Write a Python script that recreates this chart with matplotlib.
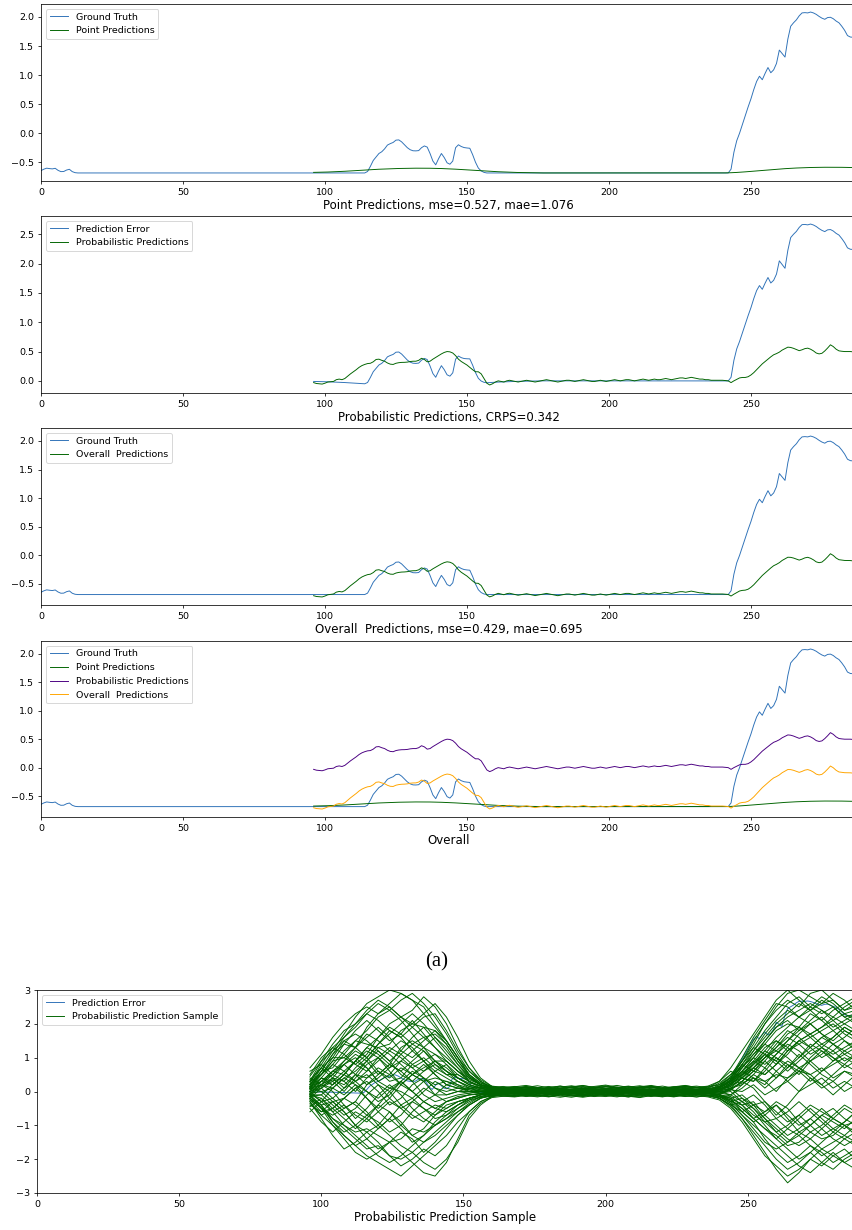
import matplotlib
matplotlib.use("Agg")
import matplotlib.pyplot as plt
import numpy as np

# ---------------- data ----------------
x_full = list(range(0, 288))
x_pred = list(range(96, 288))

ground_truth = (
    [-0.645, -0.62, -0.603, -0.61, -0.615, -0.605, -0.64, -0.662, -0.66, -0.635,
     -0.622, -0.662, -0.68, -0.685]
    + [-0.685] * 101
    + [-0.66, -0.57, -0.47, -0.41, -0.35, -0.32, -0.27, -0.205, -0.18, -0.16,
       -0.12, -0.116, -0.15, -0.2, -0.25, -0.285, -0.303, -0.305, -0.3, -0.25,
       -0.22, -0.24, -0.35, -0.48, -0.545, -0.44, -0.35, -0.42, -0.51, -0.535,
       -0.48, -0.25, -0.2, -0.23, -0.248, -0.255, -0.26, -0.37, -0.5, -0.6,
       -0.65, -0.675, -0.685]
    + [-0.685] * 85
    + [-0.62, -0.33, -0.13, 0.0, 0.15, 0.30, 0.45, 0.59, 0.75, 0.89,
       0.98, 0.92, 1.03, 1.13, 1.04, 1.09, 1.2, 1.43, 1.37, 1.31,
       1.62, 1.84, 1.9, 1.95, 2.02, 2.07, 2.075, 2.07, 2.085, 2.07,
       2.045, 2.01, 1.98, 1.96, 1.99, 1.995, 1.97, 1.93, 1.9, 1.84,
       1.77, 1.68, 1.655, 1.65, 1.64]
)

point_pred = (
    [-0.675, -0.674, -0.673, -0.672, -0.671, -0.669, -0.667, -0.665, -0.663, -0.661,
     -0.659, -0.656, -0.653, -0.65, -0.647, -0.644, -0.641, -0.638, -0.635, -0.632,
     -0.629, -0.626, -0.623, -0.621, -0.619, -0.617, -0.615, -0.613, -0.611, -0.609,
     -0.608, -0.607, -0.606, -0.605, -0.604, -0.604, -0.603, -0.603, -0.603, -0.603,
     -0.604, -0.604, -0.605, -0.606, -0.607, -0.609, -0.611, -0.613, -0.615, -0.617,
     -0.62, -0.623, -0.626, -0.629, -0.632, -0.635, -0.638, -0.641, -0.644, -0.647,
     -0.65, -0.653, -0.656, -0.659, -0.662, -0.664, -0.666, -0.668, -0.67, -0.672,
     -0.674, -0.676, -0.677, -0.678, -0.679, -0.68, -0.681, -0.682, -0.683, -0.684]
    + [-0.685] * 65
    + [-0.684, -0.683, -0.681, -0.679, -0.676, -0.673, -0.67, -0.666, -0.662, -0.658,
       -0.654, -0.65, -0.646, -0.642, -0.638, -0.634, -0.63, -0.626, -0.622, -0.618,
       -0.614, -0.611, -0.608, -0.605, -0.602, -0.6, -0.598, -0.596, -0.594, -0.592,
       -0.591, -0.59, -0.589, -0.588, -0.588, -0.587, -0.587, -0.587, -0.587, -0.587,
       -0.588, -0.588, -0.589, -0.59, -0.591, -0.592, -0.593]
)

prob_pred = [
    -0.03, -0.045, -0.05, -0.055, -0.04, -0.02, -0.015, -0.01, 0.02, 0.03,      # 96-105
    0.02, 0.04, 0.08, 0.12, 0.155, 0.19, 0.23, 0.26, 0.28, 0.295,               # 106-115
    0.3, 0.325, 0.365, 0.37, 0.35, 0.335, 0.305, 0.285, 0.28, 0.3,              # 116-125
    0.31, 0.315, 0.316, 0.32, 0.33, 0.335, 0.335, 0.35, 0.385, 0.365,           # 126-135
    0.325, 0.335, 0.37, 0.40, 0.43, 0.46, 0.485, 0.50, 0.495, 0.475,            # 136-145
    0.43, 0.37, 0.33, 0.30, 0.27, 0.23, 0.19, 0.155, 0.155, 0.12,               # 146-155
    0.04, -0.04, -0.07, -0.05, -0.02, 0.0, -0.01, -0.02, 0.0, 0.01,             # 156-165
    0.0, -0.01, -0.02, -0.01, 0.0, 0.01, 0.0, -0.01, -0.02, -0.01,              # 166-175
    0.0, 0.01, 0.02, 0.01, 0.0, -0.01, -0.02, -0.01, 0.0, 0.01,                 # 176-185
    0.01, 0.0, -0.01, 0.0, 0.01, 0.02, 0.01, 0.0, -0.01, -0.01,                 # 186-195
    0.0, 0.01, 0.0, -0.01, 0.0, 0.01, 0.02, 0.01, 0.0, 0.01,                    # 196-205
    0.02, 0.02, 0.01, 0.0, 0.01, 0.02, 0.03, 0.02, 0.01, 0.02,                  # 206-215
    0.03, 0.02, 0.02, 0.03, 0.04, 0.03, 0.02, 0.03, 0.04, 0.05,                 # 216-225
    0.05, 0.04, 0.05, 0.06, 0.05, 0.04, 0.03, 0.03, 0.02, 0.02,                 # 226-235
    0.01, 0.01, 0.01, 0.01, 0.01, 0.005, 0.0, -0.03, 0.0, 0.025,                # 236-245
    0.05, 0.058, 0.058, 0.07, 0.1, 0.14, 0.19, 0.24, 0.29, 0.33,                # 246-255
    0.37, 0.41, 0.445, 0.465, 0.49, 0.525, 0.55, 0.575, 0.57, 0.555,            # 256-265
    0.535, 0.515, 0.53, 0.55, 0.558, 0.54, 0.512, 0.475, 0.46, 0.47,            # 266-275
    0.51, 0.56, 0.615, 0.585, 0.54, 0.512, 0.505, 0.5, 0.5, 0.5,                # 276-285
    0.495, 0.49,                                                                # 286-287
]

sample_x = [96, 100, 104, 108, 112, 116, 120, 124, 128, 132, 136, 140, 144, 148, 152, 156,
            160, 164, 168, 172, 176, 180, 184, 188, 192, 196, 200, 204, 208, 212, 216, 220,
            224, 228, 232, 236, 240, 244, 248, 252, 256, 260, 264, 268, 272, 276, 280, 284, 288]

sample_paths = [
    [0.1, 0.4, 0.8, 1.2, 1.5, 1.4, 1.3, 1.4, 1.8, 2.0, 1.9, 1.5, 1.1, 0.7, 0.3, 0.15, 0.05, 0.02,
     0.03, -0.02, 0.04, 0.06, 0.01, -0.03, 0.02, 0.05, 0.03, -0.01, 0.04, 0.02, -0.04, 0.01, 0.06, 0.03, 0.00, 0.05,
     0.10, 0.30, 0.70, 1.10, 1.40, 1.80, 2.00, 1.90, 1.70, 1.90, 2.20, 2.00, 1.80],
    [-0.2, -0.5, -0.8, -1.0, -1.2, -1.1, -1.3, -1.5, -1.4, -1.1, -1.2, -1.0, -0.8, -0.6, -0.4, -0.2, -0.1, -0.05,
     -0.04, 0.01, -0.06, -0.02, 0.03, -0.05, -0.01, 0.02, -0.03, -0.07, -0.02, 0.01, -0.04, -0.06, 0.00, -0.03, 0.02, -0.05,
     -0.10, -0.25, -0.50, -0.80, -1.10, -1.30, -1.60, -1.50, -1.20, -1.40, -1.30, -1.00, -1.20],
    [0.0, 0.2, 0.1, 0.4, 0.6, 0.9, 1.3, 1.1, 0.8, 0.5, 0.7, 0.9, 0.6, 0.4, 0.2, 0.1, 0.0, 0.03,
     0.02, 0.05, 0.00, -0.03, 0.04, 0.07, 0.02, -0.02, 0.01, 0.05, 0.03, -0.03, 0.00, 0.04, 0.02, -0.02, 0.03, 0.01,
     0.05, 0.15, 0.40, 0.30, 0.60, 1.00, 0.80, 0.50, 0.90, 1.20, 1.00, 0.70, 0.90],
    [0.2, 0.7, 1.2, 1.7, 2.2, 2.6, 2.8, 3.0, 2.9, 2.7, 2.5, 2.0, 1.5, 1.0, 0.6, 0.3, 0.1, 0.05,
     0.06, 0.02, 0.08, 0.04, 0.01, 0.05, 0.07, 0.03, 0.00, 0.04, 0.06, 0.02, 0.05, 0.08, 0.03, 0.01, 0.04, 0.06,
     0.15, 0.35, 0.60, 0.90, 1.30, 1.50, 1.20, 1.40, 1.60, 1.30, 1.10, 1.30, 1.50],
    [-0.3, -0.7, -1.0, -1.3, -1.6, -1.9, -2.1, -2.3, -2.5, -2.2, -1.9, -1.6, -1.3, -0.9, -0.6, -0.3, -0.15, -0.08,
     -0.05, -0.08, -0.03, -0.06, -0.09, -0.04, -0.02, -0.06, -0.08, -0.03, -0.05, -0.07, -0.02, -0.04, -0.06, -0.09, -0.03, -0.05,
     -0.15, -0.30, -0.40, -0.70, -0.90, -0.80, -1.10, -1.30, -1.00, -0.70, -0.90, -1.10, -0.80],
    [0.1, 0.0, -0.3, -0.2, 0.1, 0.3, 0.0, -0.4, -0.2, 0.2, 0.4, 0.1, -0.1, 0.0, 0.1, 0.0, -0.05, 0.0,
     0.01, -0.03, 0.02, 0.00, -0.04, 0.03, 0.01, -0.02, 0.04, 0.00, -0.03, 0.02, 0.05, -0.01, -0.03, 0.02, 0.00, -0.02,
     -0.20, -0.40, -0.80, -1.30, -1.80, -2.30, -2.70, -2.40, -2.00, -2.20, -1.90, -1.70, -2.00],
    [-0.1, 0.3, 0.6, 0.5, 0.9, 1.2, 1.0, 0.7, 1.1, 1.4, 1.2, 0.8, 0.5, 0.3, 0.1, 0.05, 0.02, -0.02,
     -0.02, 0.03, 0.06, 0.02, -0.01, 0.04, 0.00, 0.03, 0.07, 0.02, -0.02, 0.05, 0.03, 0.00, 0.04, 0.06, 0.01, 0.03,
     0.20, 0.40, 0.90, 1.50, 2.00, 2.50, 2.90, 3.00, 2.80, 2.60, 2.70, 2.40, 2.50],
    [0.0, -0.3, -0.6, -0.4, -0.7, -0.9, -0.6, -0.3, -0.5, -0.8, -0.6, -0.4, -0.5, -0.3, -0.2, -0.1, 0.0, -0.03,
     0.00, -0.05, -0.02, 0.03, 0.00, -0.04, -0.06, -0.01, 0.02, -0.03, 0.00, -0.05, -0.02, 0.02, -0.01, -0.04, -0.02, 0.00,
     -0.05, 0.10, -0.20, -0.40, -0.30, -0.60, -0.90, -0.70, -0.40, -0.60, -0.80, -0.50, -0.70],
    [0.15, 0.5, 0.9, 1.0, 0.8, 1.1, 1.6, 2.0, 2.2, 1.9, 1.6, 1.7, 1.4, 0.9, 0.5, 0.2, 0.08, 0.04,
     0.05, 0.08, 0.03, 0.06, 0.09, 0.04, 0.02, 0.06, 0.03, 0.07, 0.05, 0.01, 0.04, 0.07, 0.05, 0.02, 0.06, 0.04,
     0.12, 0.25, 0.55, 0.80, 1.10, 0.90, 1.30, 1.70, 2.00, 2.20, 1.90, 2.10, 2.30],
    [-0.1, -0.1, 0.2, 0.5, 0.3, 0.0, -0.3, -0.1, 0.3, 0.6, 0.4, 0.2, 0.3, 0.2, 0.0, -0.05, 0.0, 0.02,
     0.03, 0.00, -0.02, 0.04, 0.02, -0.01, 0.03, 0.05, 0.00, -0.03, 0.01, 0.04, 0.02, -0.02, 0.03, 0.00, -0.01, 0.02,
     0.00, 0.20, 0.50, 0.90, 0.70, 0.40, 0.70, 1.10, 0.80, 0.50, 0.30, 0.60, 0.40],
    [0.3, 0.9, 1.4, 1.8, 2.0, 2.3, 2.1, 1.8, 1.6, 1.9, 2.2, 2.3, 1.8, 1.2, 0.7, 0.35, 0.15, 0.06,
     0.04, 0.01, 0.05, 0.02, -0.02, 0.03, 0.06, 0.01, -0.01, 0.04, 0.02, 0.06, 0.03, -0.01, 0.02, 0.05, 0.03, 0.00,
     0.10, 0.05, 0.30, 0.60, 1.00, 1.20, 1.00, 0.70, 0.90, 1.10, 1.40, 1.20, 1.00],
    [-0.2, -0.4, -0.3, -0.6, -1.0, -1.4, -1.7, -1.5, -1.2, -1.4, -1.8, -1.5, -1.1, -0.7, -0.4, -0.2, -0.08, -0.04,
     -0.02, -0.06, -0.03, 0.00, -0.05, -0.08, -0.03, -0.01, -0.04, -0.06, -0.02, -0.05, -0.07, -0.03, -0.01, -0.04, -0.06, -0.03,
     -0.10, -0.20, -0.60, -0.90, -1.40, -1.80, -2.10, -1.90, -1.60, -1.80, -2.10, -1.90, -1.70],
    [0.05, 0.3, 0.5, 0.9, 1.2, 1.0, 0.6, 0.3, 0.4, 0.8, 1.0, 0.7, 0.5, 0.5, 0.3, 0.15, 0.05, 0.0,
     0.02, 0.04, 0.07, 0.03, 0.00, 0.02, -0.02, 0.01, 0.05, 0.03, 0.00, -0.02, 0.01, 0.03, 0.06, 0.02, -0.01, 0.01,
     0.05, 0.25, 0.70, 1.20, 1.70, 2.10, 2.40, 2.20, 2.00, 1.70, 1.50, 1.80, 1.60],
    [-0.05, 0.1, -0.2, -0.5, -0.3, 0.2, 0.5, 0.8, 0.6, 0.3, -0.1, -0.3, -0.2, -0.1, -0.05, 0.0, 0.02, -0.01,
     -0.01, 0.02, -0.03, -0.01, 0.03, 0.00, -0.04, -0.02, 0.01, -0.02, 0.03, 0.00, -0.03, 0.01, -0.02, 0.02, 0.00, -0.03,
     -0.05, 0.05, 0.30, 0.10, -0.30, -0.70, -0.40, 0.00, 0.40, 0.20, -0.10, 0.20, 0.50],
    [0.2, 0.6, 0.7, 1.1, 1.5, 1.8, 2.2, 2.4, 2.1, 1.7, 1.3, 1.1, 0.9, 0.6, 0.4, 0.2, 0.1, 0.03,
     0.03, 0.06, 0.02, 0.05, 0.03, 0.00, 0.04, 0.02, 0.06, 0.04, 0.01, 0.03, 0.06, 0.02, 0.00, 0.03, 0.05, 0.02,
     0.08, 0.20, 0.30, 0.60, 0.50, 0.80, 1.20, 1.50, 1.30, 1.00, 1.20, 1.50, 1.30],
    [-0.15, -0.4, -0.9, -1.2, -1.0, -0.7, -0.9, -1.2, -1.0, -0.6, -0.3, -0.5, -0.6, -0.4, -0.2, -0.1, -0.05, -0.02,
     -0.03, 0.00, -0.04, -0.07, -0.02, 0.01, -0.03, -0.05, -0.02, 0.02, -0.01, -0.04, -0.02, 0.00, -0.05, -0.02, 0.01, -0.02,
     -0.10, -0.15, -0.40, -0.30, -0.70, -1.00, -1.30, -1.10, -0.80, -1.10, -1.40, -1.60, -1.40],
    [0.1, 0.2, 0.6, 0.8, 0.5, 0.2, 0.4, 0.7, 0.9, 1.2, 0.9, 0.6, 0.8, 0.5, 0.3, 0.1, 0.04, 0.01,
     0.01, -0.01, 0.03, 0.05, 0.02, -0.02, 0.00, 0.04, 0.01, -0.01, 0.03, 0.06, 0.02, 0.00, 0.03, 0.01, 0.04, 0.02,
     0.05, 0.20, 0.50, 0.70, 1.00, 1.30, 1.60, 1.40, 1.10, 1.30, 1.60, 1.90, 1.70],
    [0.25, 0.8, 1.3, 1.6, 1.9, 2.3, 2.6, 2.4, 2.7, 2.9, 2.6, 2.2, 1.7, 1.1, 0.6, 0.3, 0.12, 0.05,
     0.07, 0.03, 0.05, 0.08, 0.04, 0.02, 0.06, 0.09, 0.04, 0.01, 0.05, 0.07, 0.03, 0.05, 0.08, 0.04, 0.02, 0.05,
     0.10, 0.30, 0.80, 1.30, 1.80, 2.20, 2.60, 2.80, 2.50, 2.30, 2.50, 2.20, 2.00],
    [-0.25, -0.6, -0.5, -0.2, 0.1, -0.2, -0.6, -0.9, -0.7, -0.3, -0.5, -0.8, -0.7, -0.5, -0.3, -0.15, -0.06, -0.03,
     -0.04, -0.02, 0.01, -0.03, -0.06, -0.02, 0.00, -0.04, -0.07, -0.03, -0.01, -0.04, -0.06, -0.02, 0.00, -0.03, -0.05, -0.01,
     -0.15, -0.35, -0.70, -1.10, -1.50, -1.70, -1.50, -1.20, -1.40, -1.70, -1.50, -1.30, -1.50],
    [0.0, 0.4, 0.3, 0.0, 0.4, 0.8, 1.0, 0.6, 0.2, 0.0, 0.3, 0.6, 0.4, 0.2, 0.1, 0.0, 0.0, -0.02,
     0.00, 0.03, 0.01, -0.02, 0.02, 0.05, 0.01, -0.03, 0.00, 0.03, 0.05, 0.01, -0.02, 0.02, 0.04, 0.00, 0.02, 0.03,
     0.00, 0.10, 0.20, 0.50, 0.90, 0.60, 0.30, 0.60, 1.00, 1.30, 1.00, 0.80, 1.10],
    [0.1, 0.6, 1.1, 1.4, 1.3, 1.6, 1.9, 1.6, 1.2, 1.0, 1.3, 1.6, 1.3, 0.8, 0.4, 0.2, 0.08, 0.03,
     0.02, 0.05, 0.03, 0.00, 0.04, 0.06, 0.03, 0.01, 0.05, 0.02, -0.01, 0.03, 0.05, 0.02, 0.04, 0.07, 0.02, 0.03,
     0.12, 0.30, 0.60, 1.00, 1.50, 1.90, 2.20, 2.40, 2.60, 2.40, 2.10, 2.30, 2.40],
    [-0.1, -0.2, -0.5, -0.8, -1.1, -0.8, -0.4, -0.6, -1.0, -1.3, -1.1, -0.7, -0.4, -0.3, -0.2, -0.1, -0.03, 0.0,
     -0.02, -0.04, 0.00, 0.02, -0.03, -0.05, -0.01, 0.02, -0.02, -0.05, -0.03, 0.00, 0.02, -0.02, -0.04, -0.01, 0.01, -0.03,
     -0.05, 0.00, -0.30, -0.60, -1.00, -1.40, -1.70, -2.00, -1.80, -1.50, -1.20, -1.40, -1.20],
    [0.15, 0.3, 0.6, 0.9, 1.3, 1.7, 1.5, 1.2, 1.5, 1.3, 0.9, 0.5, 0.2, 0.1, 0.0, 0.0, 0.03, 0.04,
     0.05, 0.02, -0.01, 0.03, 0.06, 0.04, 0.00, 0.02, 0.05, 0.07, 0.03, 0.00, 0.02, 0.05, 0.01, -0.02, 0.02, 0.05,
     0.10, 0.35, 0.80, 0.60, 0.90, 1.30, 1.70, 1.90, 1.60, 1.80, 2.00, 1.70, 1.50],
    [-0.05, -0.3, -0.2, 0.1, 0.3, 0.5, 0.2, -0.2, -0.5, -0.3, 0.0, 0.3, 0.1, 0.0, 0.0, 0.02, 0.0, -0.01,
     -0.02, 0.01, 0.03, -0.01, -0.03, 0.02, 0.04, 0.00, -0.02, 0.01, -0.03, -0.01, 0.02, 0.04, 0.00, -0.03, -0.01, 0.01,
     0.00, -0.10, 0.10, 0.40, 0.20, 0.60, 0.90, 0.70, 0.40, 0.10, 0.30, 0.00, 0.20],
    [0.2, 0.5, 1.0, 1.5, 1.7, 1.5, 1.2, 0.9, 1.2, 1.6, 1.9, 1.8, 1.5, 1.0, 0.5, 0.25, 0.1, 0.05,
     0.04, 0.07, 0.02, 0.00, 0.03, 0.05, 0.08, 0.04, 0.02, 0.05, 0.03, 0.06, 0.04, 0.01, 0.03, 0.06, 0.04, 0.02,
     0.15, 0.30, 0.50, 0.80, 1.20, 1.60, 1.90, 2.20, 2.40, 2.70, 2.50, 2.20, 2.30],
    [-0.2, -0.5, -0.7, -0.5, -0.3, -0.6, -1.0, -1.3, -1.6, -1.8, -1.5, -1.2, -0.9, -0.6, -0.35, -0.15, -0.07, -0.03,
     -0.05, -0.02, -0.06, -0.04, -0.01, -0.03, -0.07, -0.04, -0.02, -0.05, -0.08, -0.04, -0.01, -0.03, -0.06, -0.02, -0.04, -0.07,
     -0.10, -0.30, -0.20, -0.50, -0.90, -1.20, -1.00, -0.70, -1.00, -1.30, -1.10, -0.90, -0.60],
    [0.05, 0.2, 0.4, 0.3, 0.7, 1.0, 1.4, 1.7, 2.0, 2.3, 2.0, 1.6, 1.2, 0.8, 0.45, 0.2, 0.06, 0.02,
     0.02, -0.01, 0.02, 0.05, 0.03, 0.01, 0.04, 0.06, 0.02, 0.00, 0.03, 0.05, 0.08, 0.03, 0.01, 0.04, 0.02, 0.00,
     0.05, 0.15, 0.40, 0.80, 1.10, 0.90, 0.60, 0.90, 1.20, 1.40, 1.20, 0.90, 1.10],
    [0.0, 0.1, 0.3, 0.6, 0.9, 0.7, 0.3, 0.1, 0.3, 0.0, -0.3, -0.1, 0.2, 0.3, 0.15, 0.05, 0.0, 0.0,
     0.01, 0.03, 0.00, -0.02, 0.01, 0.04, 0.02, -0.01, -0.03, 0.00, 0.02, 0.04, 0.01, -0.02, 0.00, 0.03, 0.01, -0.01,
     0.05, 0.20, 0.60, 1.00, 1.40, 1.20, 1.50, 1.90, 2.30, 2.10, 1.80, 2.00, 2.20],
    [-0.1, -0.4, -0.8, -1.1, -1.4, -1.7, -1.6, -1.9, -2.0, -1.8, -2.1, -2.3, -2.0, -1.5, -0.8, -0.4, -0.15, -0.05,
     -0.03, -0.06, -0.02, -0.05, -0.08, -0.04, -0.02, -0.05, -0.03, -0.07, -0.04, -0.02, -0.05, -0.08, -0.03, -0.01, -0.04, -0.02,
     -0.05, -0.10, -0.30, -0.50, -0.80, -1.10, -1.40, -1.60, -1.40, -1.10, -0.80, -1.00, -1.30],
    [0.1, 0.3, 0.2, 0.5, 0.9, 1.3, 1.1, 0.8, 0.6, 0.9, 1.2, 0.9, 0.7, 0.4, 0.2, 0.1, 0.05, 0.01,
     0.03, 0.00, 0.04, 0.02, -0.01, 0.02, 0.05, 0.03, 0.00, 0.02, 0.04, 0.01, -0.01, 0.03, 0.05, 0.02, 0.00, 0.04,
     0.05, 0.25, 0.40, 0.30, 0.70, 1.10, 1.40, 1.20, 0.90, 0.60, 0.80, 1.00, 0.80],
    [-0.15, -0.1, -0.4, -0.7, -0.5, -0.1, 0.2, 0.0, -0.4, -0.7, -0.9, -0.6, -0.3, -0.2, -0.1, -0.05, -0.02, -0.02,
     -0.01, -0.04, -0.02, 0.01, -0.02, -0.05, -0.02, 0.01, 0.03, -0.01, -0.04, -0.02, 0.00, -0.03, -0.05, -0.01, 0.02, -0.02,
     -0.10, -0.20, -0.40, -0.80, -0.60, -0.30, -0.50, -0.90, -1.20, -1.00, -0.70, -0.40, -0.60],
    [0.3, 0.7, 1.0, 1.0, 1.3, 1.9, 2.3, 2.5, 2.2, 2.4, 2.8, 2.5, 2.0, 1.3, 0.7, 0.3, 0.1, 0.04,
     0.05, 0.03, 0.06, 0.09, 0.05, 0.02, 0.04, 0.07, 0.05, 0.02, 0.06, 0.03, 0.01, 0.05, 0.07, 0.04, 0.06, 0.03,
     0.15, 0.40, 0.90, 1.40, 2.00, 2.40, 2.70, 2.50, 2.90, 3.00, 2.70, 2.40, 2.60],
    [0.0, 0.15, 0.35, 0.2, 0.5, 0.4, 0.6, 0.4, 0.7, 0.5, 0.3, 0.4, 0.3, 0.15, 0.05, 0.02, 0.01, 0.0,
     0.00, 0.02, -0.01, 0.01, 0.03, 0.00, -0.02, 0.01, 0.03, 0.01, -0.01, 0.02, 0.00, 0.02, 0.01, -0.01, 0.01, 0.00,
     0.02, 0.10, 0.25, 0.40, 0.30, 0.50, 0.40, 0.60, 0.50, 0.70, 0.40, 0.60, 0.50],
    [-0.05, 0.0, 0.1, -0.1, 0.2, 0.0, -0.2, 0.1, 0.0, -0.2, 0.1, -0.1, -0.1, 0.0, -0.05, 0.0, 0.0, 0.01,
     0.01, -0.01, 0.00, 0.02, -0.01, -0.03, 0.00, 0.02, 0.00, -0.02, 0.01, -0.01, 0.02, 0.00, -0.02, 0.01, 0.00, -0.01,
     -0.02, 0.05, 0.00, 0.20, -0.10, 0.10, 0.30, 0.00, 0.20, 0.40, 0.10, 0.30, 0.10],
    [0.5, 1.0, 1.3, 1.1, 0.8, 0.6, 0.9, 1.2, 1.0, 0.7, 0.9, 1.1, 0.8, 0.4, 0.2, 0.1, 0.12, 0.15,
     0.10, 0.14, 0.08, 0.12, 0.16, 0.10, 0.06, 0.12, 0.15, 0.09, 0.13, 0.17, 0.11, 0.07, 0.12, 0.15, 0.10, 0.13,
     0.20, 0.50, 0.90, 1.30, 1.10, 0.80, 1.10, 1.50, 1.70, 1.40, 1.60, 1.90, 1.70],
    [-0.5, -0.9, -1.2, -0.9, -0.6, -0.8, -1.1, -0.8, -0.4, -0.2, -0.5, -0.7, -0.5, -0.3, -0.2, -0.15, -0.12, -0.14,
     -0.10, -0.15, -0.12, -0.08, -0.13, -0.17, -0.11, -0.07, -0.12, -0.16, -0.10, -0.06, -0.11, -0.15, -0.09, -0.13, -0.16, -0.11,
     -0.20, -0.40, -0.60, -0.40, -0.80, -1.20, -1.50, -1.30, -1.60, -1.90, -1.70, -1.40, -1.60],
    [0.3, 0.5, 0.9, 1.4, 1.8, 2.1, 1.8, 1.5, 1.7, 2.1, 1.7, 1.3, 0.9, 0.6, 0.3, 0.15, 0.1, 0.08,
     0.06, 0.12, 0.09, 0.04, 0.10, 0.14, 0.08, 0.03, 0.09, 0.13, 0.07, 0.11, 0.15, 0.09, 0.05, 0.10, 0.13, 0.08,
     0.15, 0.45, 1.00, 1.60, 2.10, 2.60, 2.50, 2.20, 2.50, 2.80, 2.60, 2.30, 2.10],
    [-0.4, -0.6, -0.3, -0.6, -1.0, -1.2, -1.0, -0.6, -0.9, -1.3, -1.5, -1.3, -1.0, -0.7, -0.4, -0.2, -0.12, -0.08,
     -0.06, -0.11, -0.14, -0.09, -0.05, -0.10, -0.14, -0.08, -0.04, -0.09, -0.13, -0.16, -0.10, -0.06, -0.11, -0.14, -0.08, -0.10,
     -0.15, -0.20, -0.10, -0.40, -0.60, -0.40, -0.70, -1.00, -0.80, -0.50, -0.80, -1.00, -0.90],
    [0.6, 0.8, 0.5, 0.8, 1.1, 0.9, 0.5, 0.8, 1.3, 1.5, 1.3, 0.9, 0.6, 0.4, 0.25, 0.18, 0.14, 0.11,
     0.15, 0.10, 0.06, 0.11, 0.16, 0.12, 0.08, 0.13, 0.17, 0.11, 0.07, 0.12, 0.16, 0.10, 0.14, 0.09, 0.12, 0.16,
     0.30, 0.60, 0.40, 0.70, 1.00, 1.40, 1.80, 1.60, 1.30, 1.60, 1.80, 1.50, 1.20],
    [-0.6, -0.3, 0.1, 0.4, 0.2, -0.2, -0.5, -0.2, 0.2, 0.5, 0.3, -0.1, -0.3, -0.2, -0.1, -0.08, -0.1, -0.13,
     -0.15, -0.09, -0.12, -0.16, -0.10, -0.06, -0.11, -0.15, -0.12, -0.07, -0.11, -0.14, -0.09, -0.12, -0.16, -0.10, -0.07, -0.12,
     -0.20, -0.10, 0.20, 0.50, 0.30, 0.00, 0.40, 0.70, 0.50, 0.20, 0.50, 0.80, 0.60],
    [0.2, 0.6, 1.1, 1.6, 2.0, 2.4, 2.7, 2.5, 2.2, 2.0, 2.3, 2.6, 2.2, 1.6, 0.9, 0.4, 0.15, 0.09,
     0.12, 0.07, 0.11, 0.15, 0.09, 0.13, 0.17, 0.12, 0.08, 0.12, 0.16, 0.11, 0.14, 0.09, 0.13, 0.17, 0.12, 0.09,
     0.25, 0.50, 0.70, 1.10, 1.50, 1.90, 2.10, 1.80, 2.10, 2.40, 2.20, 2.50, 2.70],
    [-0.3, -0.8, -1.3, -1.7, -1.5, -1.2, -1.5, -1.9, -2.2, -2.0, -1.7, -1.9, -1.6, -1.1, -0.6, -0.3, -0.15, -0.1,
     -0.12, -0.07, -0.11, -0.15, -0.09, -0.13, -0.17, -0.12, -0.08, -0.12, -0.16, -0.11, -0.07, -0.10, -0.14, -0.09, -0.12, -0.16,
     -0.25, -0.50, -0.90, -1.40, -1.90, -2.20, -2.50, -2.30, -2.00, -1.70, -1.90, -2.10, -1.90],
    [0.4, 0.2, 0.5, 0.3, 0.0, 0.4, 0.7, 0.5, 0.2, 0.5, 0.8, 0.5, 0.2, 0.1, 0.1, 0.12, 0.09, 0.06,
     0.09, 0.13, 0.08, 0.04, 0.09, 0.12, 0.07, 0.10, 0.14, 0.09, 0.05, 0.10, 0.13, 0.08, 0.11, 0.15, 0.10, 0.06,
     0.10, 0.30, 0.60, 0.40, 0.10, 0.40, 0.80, 0.60, 0.30, 0.60, 0.90, 1.10, 0.90],
    [-0.2, 0.1, 0.4, 0.8, 1.0, 0.7, 0.3, 0.5, 0.9, 0.7, 0.4, 0.1, 0.0, 0.1, 0.05, -0.05, -0.08, -0.05,
     -0.09, -0.13, -0.08, -0.04, -0.09, -0.13, -0.10, -0.05, -0.09, -0.14, -0.10, -0.06, -0.10, -0.13, -0.08, -0.05, -0.10, -0.14,
     -0.10, 0.05, 0.30, 0.70, 1.10, 1.50, 1.30, 1.00, 1.30, 1.60, 1.40, 1.10, 1.30],
    [0.7, 1.1, 1.6, 2.0, 2.3, 2.5, 2.3, 2.6, 2.9, 2.7, 2.3, 1.9, 1.5, 1.0, 0.5, 0.25, 0.16, 0.12,
     0.14, 0.18, 0.12, 0.08, 0.13, 0.17, 0.11, 0.15, 0.19, 0.13, 0.09, 0.14, 0.18, 0.12, 0.08, 0.13, 0.16, 0.11,
     0.30, 0.70, 1.20, 1.70, 2.20, 2.70, 3.00, 2.70, 2.40, 2.60, 2.90, 2.70, 2.40],
    [-0.1, -0.5, -1.0, -1.4, -1.8, -2.0, -1.8, -1.5, -1.8, -2.1, -2.4, -2.5, -2.1, -1.4, -0.7, -0.35, -0.18, -0.14,
     -0.16, -0.12, -0.08, -0.13, -0.17, -0.12, -0.08, -0.12, -0.15, -0.10, -0.06, -0.11, -0.15, -0.11, -0.07, -0.12, -0.16, -0.12,
     -0.20, -0.45, -0.80, -1.20, -1.60, -2.00, -2.30, -2.10, -1.80, -2.10, -2.30, -2.00, -1.80],
    [0.1, 0.5, 0.8, 0.6, 0.3, 0.6, 1.0, 1.3, 1.1, 0.8, 0.6, 0.8, 0.6, 0.3, 0.15, 0.08, 0.04, 0.07,
     0.03, 0.08, 0.12, 0.07, 0.02, 0.07, 0.11, 0.06, 0.01, 0.06, 0.10, 0.14, 0.08, 0.03, 0.08, 0.12, 0.06, 0.02,
     0.05, 0.20, 0.45, 0.85, 1.20, 1.00, 0.70, 1.00, 1.40, 1.20, 0.90, 1.20, 1.40],
    [-0.35, -0.7, -0.5, -0.2, -0.4, -0.7, -0.4, 0.0, 0.3, 0.0, -0.3, -0.5, -0.3, -0.15, -0.1, -0.06, -0.04, -0.07,
     -0.03, -0.08, -0.12, -0.07, -0.02, -0.07, -0.11, -0.06, -0.02, -0.07, -0.12, -0.08, -0.03, -0.08, -0.12, -0.06, -0.02, -0.07,
     -0.10, -0.30, -0.60, -0.90, -0.70, -0.40, -0.80, -1.20, -1.00, -0.70, -0.50, -0.80, -1.00],
    [0.45, 0.9, 1.2, 1.5, 1.3, 1.0, 1.4, 1.8, 1.6, 1.2, 1.5, 1.8, 1.4, 0.9, 0.45, 0.2, 0.1, 0.1,
     0.08, 0.12, 0.17, 0.11, 0.06, 0.11, 0.15, 0.09, 0.13, 0.18, 0.12, 0.07, 0.12, 0.16, 0.10, 0.06, 0.11, 0.15,
     0.20, 0.40, 0.80, 1.20, 1.60, 2.00, 2.30, 2.60, 2.40, 2.10, 2.40, 2.60, 2.80],
    [-0.15, 0.2, 0.0, -0.4, -0.8, -0.5, -0.1, 0.2, -0.1, -0.5, -0.8, -1.0, -0.8, -0.5, -0.25, -0.1, -0.06, -0.09,
     -0.11, -0.06, -0.10, -0.14, -0.08, -0.04, -0.09, -0.13, -0.08, -0.12, -0.16, -0.10, -0.06, -0.11, -0.15, -0.09, -0.05, -0.10,
     -0.15, -0.35, -0.70, -1.00, -1.30, -1.60, -1.90, -2.20, -2.40, -2.10, -1.80, -2.10, -2.30],
    [0.15, 0.4, 0.2, 0.5, 0.9, 1.3, 1.6, 1.9, 1.7, 1.4, 1.6, 1.3, 1.0, 0.7, 0.4, 0.2, 0.09, 0.04,
     0.00, 0.05, 0.09, 0.04, 0.08, 0.12, 0.06, 0.02, 0.07, 0.11, 0.05, 0.00, 0.05, 0.09, 0.04, 0.08, 0.12, 0.06,
     0.10, 0.35, 0.75, 1.00, 0.80, 1.10, 1.50, 1.80, 2.00, 1.70, 1.40, 1.60, 1.90],
    [-0.45, -0.2, -0.6, -1.0, -1.3, -1.6, -1.9, -2.1, -1.9, -1.6, -1.3, -1.0, -0.7, -0.4, -0.2, -0.1, -0.08, -0.11,
     -0.13, -0.09, -0.04, -0.09, -0.13, -0.07, -0.03, -0.08, -0.12, -0.07, -0.03, -0.08, -0.12, -0.16, -0.10, -0.05, -0.09, -0.13,
     -0.20, -0.40, -0.30, -0.10, -0.40, -0.80, -0.60, -0.30, -0.60, -0.90, -1.20, -0.90, -0.60],
    [0.35, 0.7, 0.4, 0.1, 0.5, 0.9, 1.2, 0.9, 0.5, 0.3, 0.6, 0.9, 0.9, 0.6, 0.35, 0.2, 0.13, 0.09,
     0.11, 0.15, 0.10, 0.06, 0.10, 0.14, 0.18, 0.12, 0.07, 0.11, 0.15, 0.10, 0.05, 0.10, 0.14, 0.18, 0.12, 0.08,
     0.15, 0.10, 0.40, 0.70, 0.50, 0.80, 1.20, 1.50, 1.70, 1.90, 2.10, 1.80, 1.60],
    [-0.25, -0.45, -0.9, -1.3, -1.6, -1.4, -1.1, -0.8, -1.1, -1.5, -1.3, -0.9, -0.6, -0.4, -0.25, -0.18, -0.14, -0.1,
     -0.07, -0.12, -0.16, -0.11, -0.06, -0.10, -0.15, -0.10, -0.05, -0.09, -0.14, -0.18, -0.12, -0.07, -0.11, -0.15, -0.10, -0.06,
     -0.15, -0.25, -0.50, -0.80, -1.10, -1.40, -1.10, -0.80, -0.50, -0.80, -1.10, -1.30, -1.00],
]

# derived series (as defined by the chart)
gt_arr = np.array(ground_truth)
pt_arr = np.array(point_pred)
pr_arr = np.array(prob_pred)
pred_error = gt_arr[96:] - pt_arr
overall_pred = pt_arr + pr_arr

xlabels = [
    "Point Predictions, mse=0.527, mae=1.076",
    "Probabilistic Predictions, CRPS=0.342",
    "Overall  Predictions, mse=0.429, mae=0.695",
    "Overall",
    "Probabilistic Prediction Sample",
]

# ---------------- style ----------------
C_BLUE = "#2f72b8"
C_GREEN = "darkgreen"
C_PURPLE = "indigo"
C_ORANGE = "orange"
LW = 1.0

DPI = 68
W, H = 852, 1230
fig = plt.figure(figsize=(W / DPI, H / DPI), dpi=DPI)


def add_ax(left_px, top_px, right_px, bottom_px):
    return fig.add_axes([left_px / W, 1 - bottom_px / H,
                         (right_px - left_px) / W, (bottom_px - top_px) / H])


XLIM = (0, 287)
XLABEL_FS = 12.4

# Panel 1
ax1 = add_ax(41, 4, 856, 181)
ax1.plot(x_full, ground_truth, color=C_BLUE, lw=LW, label="Ground Truth")
ax1.plot(x_pred, point_pred, color=C_GREEN, lw=LW, label="Point Predictions")
ax1.set_xlim(*XLIM)
ax1.set_xlabel(xlabels[0], fontsize=XLABEL_FS, labelpad=2)
ax1.legend(loc="upper left")

# Panel 2
ax2 = add_ax(41, 216, 856, 393)
ax2.plot(x_pred, pred_error, color=C_BLUE, lw=LW, label="Prediction Error")
ax2.plot(x_pred, prob_pred, color=C_GREEN, lw=LW, label="Probabilistic Predictions")
ax2.set_xlim(*XLIM)
ax2.set_xlabel(xlabels[1], fontsize=XLABEL_FS, labelpad=2)
ax2.legend(loc="upper left")

# Panel 3
ax3 = add_ax(41, 428, 856, 605)
ax3.plot(x_full, ground_truth, color=C_BLUE, lw=LW, label="Ground Truth")
ax3.plot(x_pred, overall_pred, color=C_GREEN, lw=LW, label="Overall  Predictions")
ax3.set_xlim(*XLIM)
ax3.set_xlabel(xlabels[2], fontsize=XLABEL_FS, labelpad=2)
ax3.legend(loc="upper left")

# Panel 4
ax4 = add_ax(41, 641, 856, 817)
ax4.plot(x_full, ground_truth, color=C_BLUE, lw=LW, label="Ground Truth")
ax4.plot(x_pred, point_pred, color=C_GREEN, lw=LW, label="Point Predictions")
ax4.plot(x_pred, prob_pred, color=C_PURPLE, lw=LW, label="Probabilistic Predictions")
ax4.plot(x_pred, overall_pred, color=C_ORANGE, lw=LW, label="Overall  Predictions")
ax4.set_xlim(*XLIM)
ax4.set_xlabel(xlabels[3], fontsize=XLABEL_FS, labelpad=2)
ax4.legend(loc="upper left")

# caption
fig.text(437 / W, 1 - 962 / H, "(a)", ha="center", va="center",
         family="Liberation Serif", fontsize=22)

# Bottom panel
ax5 = add_ax(37, 990, 853, 1193)
ax5.plot(x_pred, pred_error, color=C_BLUE, lw=LW, label="Prediction Error", zorder=1)
for i, path in enumerate(sample_paths):
    ax5.plot(sample_x, path, color=C_GREEN, lw=LW, zorder=2,
             label="Probabilistic Prediction Sample" if i == 0 else None)
ax5.set_xlim(*XLIM)
ax5.set_ylim(-3, 3)
ax5.set_xlabel(xlabels[4], fontsize=XLABEL_FS, labelpad=2)
ax5.legend(loc="upper left")

fig.savefig("out.png", dpi=DPI)
